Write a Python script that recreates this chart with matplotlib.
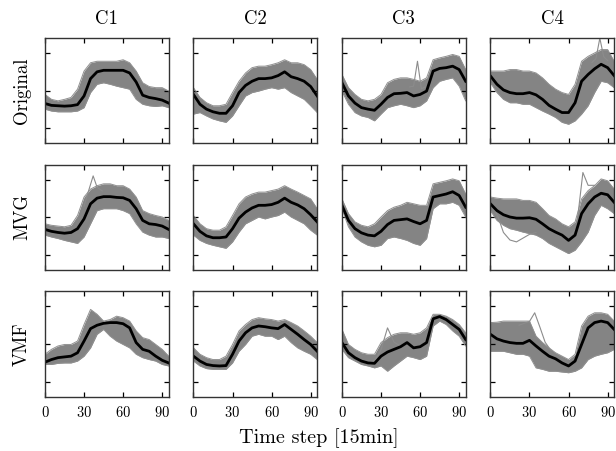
import numpy as np
import matplotlib; matplotlib.use("Agg")
import matplotlib.pyplot as plt

plt.rcParams["font.family"] = "serif"
plt.rcParams["font.serif"] = ["cmr10"]
plt.rcParams["mathtext.fontset"] = "cm"
plt.rcParams["axes.formatter.use_mathtext"] = True

# time steps (15 min), sampled every 5 steps
t = [0, 5, 10, 15, 20, 25, 30, 35, 40, 45, 50, 55, 60, 65, 70, 75, 80, 85, 90, 95]
clusters = ["C1", "C2", "C3", "C4"]
methods = ["Original", "MVG", "VMF"]

# cluster mean (black) and envelope of the members (grey), per method, C1..C4
orig_mean = [
    [-0.34, -0.39, -0.40, -0.41, -0.40, -0.37, -0.14, 0.32, 0.50, 0.54, 0.54, 0.54, 0.54, 0.47, 0.23, -0.12, -0.18, -0.21, -0.25, -0.33],
    [-0.10, -0.36, -0.49, -0.56, -0.60, -0.60, -0.40, -0.05, 0.14, 0.25, 0.32, 0.32, 0.34, 0.40, 0.50, 0.37, 0.32, 0.25, 0.11, -0.14],
    [0.21, -0.14, -0.33, -0.45, -0.49, -0.52, -0.36, -0.18, -0.08, -0.07, -0.05, -0.14, -0.10, -0.01, 0.52, 0.59, 0.61, 0.65, 0.56, 0.25],
    [0.39, 0.17, 0.02, -0.05, -0.08, -0.08, -0.05, -0.11, -0.23, -0.39, -0.49, -0.58, -0.58, -0.32, 0.25, 0.43, 0.58, 0.70, 0.61, 0.40],
]
orig_hi = [
    [-0.10, -0.23, -0.27, -0.23, -0.18, 0.04, 0.52, 0.74, 0.78, 0.78, 0.78, 0.78, 0.82, 0.74, 0.52, 0.21, 0.11, 0.08, 0.08, -0.01],
    [0.08, -0.18, -0.32, -0.40, -0.40, -0.36, -0.05, 0.25, 0.47, 0.61, 0.65, 0.65, 0.69, 0.74, 0.82, 0.74, 0.74, 0.69, 0.56, 0.30],
    [0.43, 0.08, -0.10, -0.23, -0.27, -0.23, -0.10, 0.21, 0.30, 0.34, 0.34, 0.30, 0.25, 0.34, 0.82, 0.87, 0.91, 0.96, 0.91, 0.56],
    [0.52, 0.52, 0.52, 0.56, 0.56, 0.52, 0.52, 0.47, 0.34, 0.17, 0.04, -0.05, -0.10, 0.17, 0.78, 0.91, 1.00, 1.09, 1.09, 0.78],
]
orig_lo = [
    [-0.49, -0.54, -0.56, -0.56, -0.56, -0.54, -0.45, -0.05, 0.17, 0.21, 0.17, 0.12, 0.08, 0.04, -0.23, -0.36, -0.40, -0.42, -0.40, -0.45],
    [-0.62, -0.58, -0.67, -0.75, -0.80, -0.84, -0.67, -0.40, -0.14, -0.05, -0.01, 0.04, 0.08, 0.04, 0.08, -0.05, -0.14, -0.23, -0.40, -0.58],
    [-0.01, -0.36, -0.58, -0.67, -0.71, -0.80, -0.62, -0.45, -0.40, -0.36, -0.40, -0.45, -0.40, -0.27, 0.08, 0.25, 0.30, 0.34, 0.12, -0.27],
    [0.21, -0.05, -0.23, -0.32, -0.32, -0.36, -0.36, -0.45, -0.54, -0.62, -0.71, -0.84, -0.89, -0.80, -0.62, -0.40, -0.05, 0.25, 0.21, 0.08],
]

mvg_mean = [
    [-0.32, -0.37, -0.40, -0.42, -0.40, -0.30, -0.04, 0.36, 0.51, 0.55, 0.55, 0.53, 0.52, 0.45, 0.23, -0.08, -0.17, -0.19, -0.23, -0.32],
    [-0.17, -0.37, -0.49, -0.54, -0.54, -0.52, -0.30, -0.02, 0.14, 0.25, 0.32, 0.32, 0.34, 0.40, 0.51, 0.40, 0.33, 0.23, 0.07, -0.12],
    [0.32, -0.08, -0.30, -0.41, -0.47, -0.49, -0.37, -0.19, -0.08, -0.06, -0.04, -0.11, -0.17, -0.08, 0.54, 0.58, 0.62, 0.68, 0.58, 0.27],
    [0.36, 0.18, 0.07, 0.01, -0.02, -0.02, -0.01, -0.05, -0.17, -0.30, -0.39, -0.47, -0.61, -0.47, 0.10, 0.36, 0.54, 0.64, 0.60, 0.40],
]
mvg_hi = [
    [-0.17, -0.21, -0.23, -0.25, -0.21, 0.05, 0.54, 0.75, 0.84, 0.89, 0.89, 0.84, 0.84, 0.75, 0.54, 0.18, 0.10, 0.05, 0.01, -0.08],
    [0.05, -0.17, -0.30, -0.34, -0.34, -0.25, 0.05, 0.36, 0.54, 0.62, 0.67, 0.67, 0.71, 0.75, 0.84, 0.75, 0.67, 0.58, 0.49, 0.23],
    [0.49, 0.10, -0.12, -0.21, -0.25, -0.17, 0.01, 0.18, 0.27, 0.32, 0.40, 0.36, 0.32, 0.32, 0.89, 0.93, 0.97, 1.02, 0.97, 0.62],
    [0.54, 0.51, 0.49, 0.49, 0.49, 0.45, 0.45, 0.40, 0.23, 0.05, -0.04, -0.17, -0.25, -0.12, 0.49, 0.71, 0.84, 1.02, 0.97, 0.75],
]
mvg_lo = [
    [-0.47, -0.52, -0.56, -0.61, -0.65, -0.69, -0.52, -0.17, 0.18, 0.23, 0.23, 0.23, 0.18, 0.10, -0.17, -0.39, -0.47, -0.52, -0.52, -0.56],
    [-0.47, -0.61, -0.69, -0.74, -0.78, -0.82, -0.65, -0.39, -0.17, -0.08, 0.01, -0.04, 0.01, 0.05, 0.14, 0.01, -0.08, -0.17, -0.34, -0.47],
    [0.23, -0.25, -0.52, -0.65, -0.74, -0.78, -0.74, -0.56, -0.52, -0.56, -0.61, -0.69, -0.74, -0.56, 0.23, 0.36, 0.36, 0.40, 0.32, 0.01],
    [0.18, -0.08, -0.21, -0.30, -0.34, -0.39, -0.43, -0.47, -0.56, -0.69, -0.78, -0.87, -0.96, -0.87, -0.65, -0.39, 0.05, 0.32, 0.23, 0.10],
]

vmf_mean = [
    [-0.48, -0.41, -0.36, -0.34, -0.32, -0.23, 0.08, 0.41, 0.50, 0.55, 0.57, 0.57, 0.54, 0.43, 0.04, -0.14, -0.19, -0.32, -0.43, -0.50],
    [-0.32, -0.45, -0.54, -0.57, -0.58, -0.57, -0.27, 0.08, 0.30, 0.43, 0.48, 0.46, 0.43, 0.41, 0.52, 0.39, 0.26, 0.12, -0.01, -0.19],
    [0.04, -0.23, -0.36, -0.45, -0.50, -0.51, -0.32, -0.21, -0.14, -0.07, 0.04, -0.10, -0.07, 0.04, 0.67, 0.73, 0.65, 0.52, 0.39, 0.12],
    [0.26, 0.14, 0.08, 0.04, 0.02, 0.02, 0.10, -0.05, -0.19, -0.32, -0.39, -0.50, -0.58, -0.45, -0.01, 0.43, 0.57, 0.61, 0.57, 0.39],
]
vmf_hi = [
    [-0.27, -0.14, -0.05, -0.01, -0.01, 0.08, 0.52, 0.92, 0.79, 0.61, 0.65, 0.74, 0.70, 0.61, 0.35, 0.17, 0.12, -0.01, -0.14, -0.32],
    [-0.10, -0.27, -0.36, -0.41, -0.41, -0.32, -0.01, 0.35, 0.52, 0.65, 0.70, 0.67, 0.65, 0.61, 0.65, 0.57, 0.48, 0.35, 0.21, 0.04],
    [0.39, -0.01, -0.14, -0.23, -0.27, -0.27, 0.04, 0.17, 0.26, 0.30, 0.30, 0.26, 0.30, 0.43, 0.79, 0.79, 0.74, 0.65, 0.52, 0.30],
    [0.57, 0.58, 0.61, 0.61, 0.61, 0.61, 0.61, 0.21, 0.04, -0.10, -0.23, -0.32, -0.41, -0.27, 0.48, 0.74, 0.83, 0.83, 0.79, 0.61],
]
vmf_lo = [
    [-0.54, -0.54, -0.51, -0.50, -0.50, -0.45, -0.32, -0.10, 0.26, 0.39, 0.21, 0.08, -0.01, -0.10, -0.27, -0.36, -0.41, -0.45, -0.54, -0.58],
    [-0.45, -0.58, -0.65, -0.67, -0.67, -0.67, -0.50, -0.19, -0.01, 0.21, 0.26, 0.21, 0.21, 0.12, 0.21, 0.04, -0.10, -0.19, -0.27, -0.41],
    [-0.14, -0.36, -0.45, -0.54, -0.58, -0.63, -0.58, -0.72, -0.58, -0.45, -0.32, -0.36, -0.41, -0.32, 0.48, 0.61, 0.52, 0.35, 0.21, -0.05],
    [-0.19, -0.19, -0.19, -0.23, -0.27, -0.27, -0.32, -0.63, -0.67, -0.72, -0.72, -0.74, -0.76, -0.72, -0.63, -0.41, -0.32, -0.27, -0.23, -0.14],
]

# a few single member curves that leave the band: (row, col), time steps, values
outlier_cell = [(0, 2), (0, 3), (1, 0), (1, 3), (1, 3), (2, 2), (2, 3)]
outlier_t = [
    [52, 55, 58, 61, 64],
    [78, 81, 84, 87, 90],
    [30, 33, 37, 40, 44],
    [62, 66, 71, 75, 80],
    [2, 6, 10, 15, 20, 25, 30, 35],
    [22, 26, 30, 35, 40, 45],
    [22, 26, 30, 34, 38, 42, 46],
]
outlier_v = [
    [0.10, 0.12, 0.78, 0.05, 0.10],
    [0.75, 0.85, 1.39, 0.90, 0.80],
    [0.30, 0.65, 1.10, 0.80, 0.70],
    [-0.45, -0.30, 1.19, 0.85, 0.85],
    [0.30, 0.00, -0.40, -0.60, -0.65, -0.55, -0.45, -0.40],
    [-0.50, -0.40, -0.15, 0.43, 0.05, -0.05],
    [0.50, 0.55, 0.60, 0.83, 0.45, 0.05, -0.15],
]

rows = [(orig_mean, orig_lo, orig_hi), (mvg_mean, mvg_lo, mvg_hi), (vmf_mean, vmf_lo, vmf_hi)]

fig, axes = plt.subplots(3, 4, figsize=(6.16, 4.51), dpi=100)
fig.subplots_adjust(left=0.073, right=0.997, top=0.916, bottom=0.120, wspace=0.2, hspace=0.2)

for r, (mean, lo, hi) in enumerate(rows):
    for c in range(4):
        ax = axes[r, c]
        ax.fill_between(t, lo[c], hi[c], color="#848484", lw=0)
        ax.plot(t, lo[c], color="#909090", lw=0.7)
        ax.plot(t, hi[c], color="#909090", lw=0.7)
        for (rr, cc), ot, ov in zip(outlier_cell, outlier_t, outlier_v):
            if (rr, cc) == (r, c):
                ax.plot(ot, ov, color="#8c8c8c", lw=0.8)
        ax.plot(t, mean[c], color="black", lw=2.0)
        ax.set_xlim(0, 95); ax.set_ylim(-1.4, 1.4)
        ax.set_xticks([0, 30, 60, 90]); ax.set_yticks([-1, 0, 1])
        ax.tick_params(direction="in", top=True, right=True, length=3.5, width=0.9,
                       labelleft=False, labelbottom=(r == 2), labelsize=10.5, pad=6)
        for s in ax.spines.values():
            s.set_linewidth(1.0); s.set_color("#333333")
        if r == 0:
            ax.set_title(clusters[c], fontsize=13.5, pad=10)
        if c == 0:
            ax.set_ylabel(methods[r], fontsize=13.5, labelpad=10)

fig.text(0.518, 0.029, "Time step [15min]", ha="center", va="center", fontsize=14.5)
fig.savefig("out.png", dpi=100)
